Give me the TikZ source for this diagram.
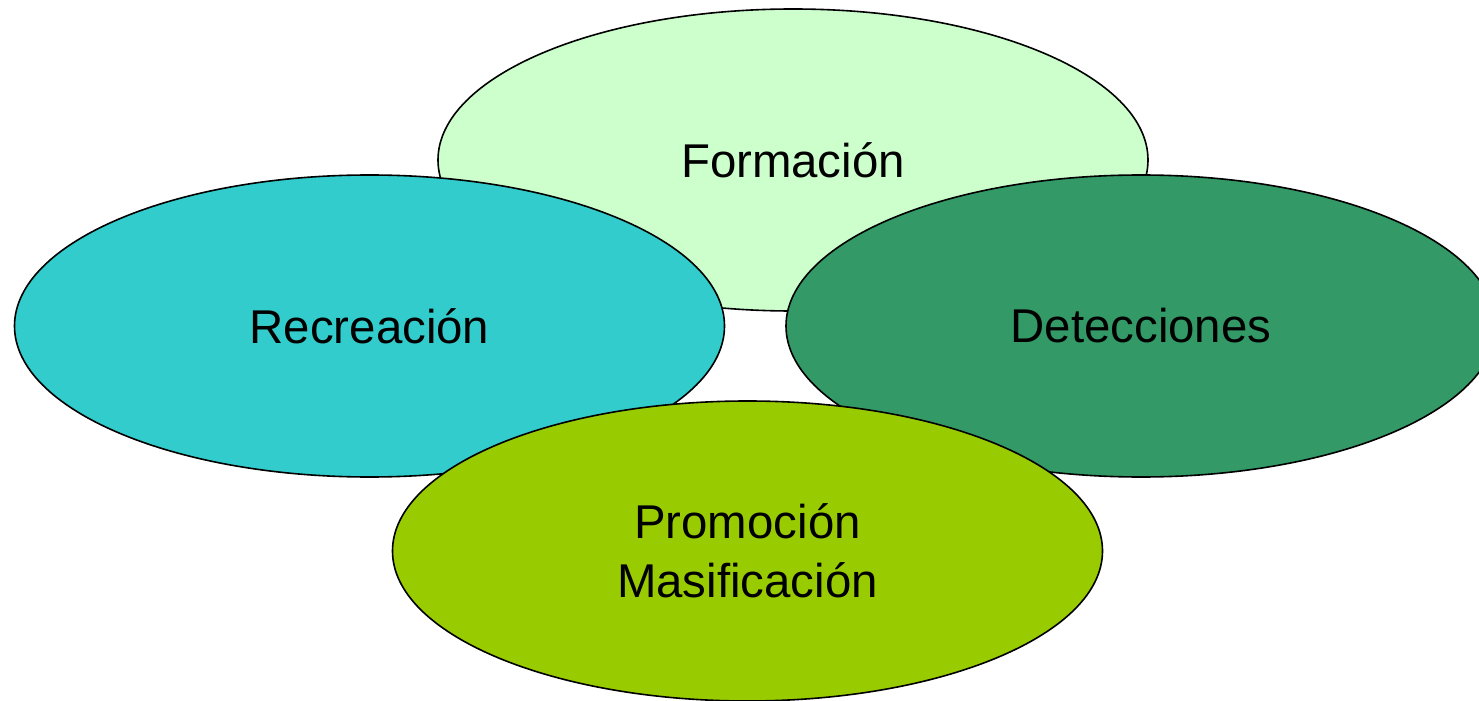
\documentclass[tikz,border=0pt]{standalone}
\usepackage{fontspec}
\setmainfont{Liberation Sans}
\usepackage{tikz}
\usetikzlibrary{shapes.geometric}
\definecolor{vclaro}{HTML}{CCFFCC}
\definecolor{turquesa}{HTML}{33CCCC}
\definecolor{vmar}{HTML}{339966}
\definecolor{lima}{HTML}{99CC00}
\tikzset{area/.style={ellipse,draw=black,line width=0.8pt,inner sep=0pt,
  minimum width=355pt,minimum height=151pt,align=center,
  font=\fontsize{23.7}{29.5}\selectfont}}
\begin{document}
\begin{tikzpicture}[x=0.5pt,y=-0.5pt]
\useasboundingbox (0,0) rectangle (1479,701);
\clip (0,0) rectangle (1479,701);
\node [area,fill=vclaro] (form) at (793,160) {Formación};
\node [area,fill=turquesa] (recr) at (369.5,326) {Recreación};
\node [area,fill=vmar] (dete) at (1141,326) {Detecciones};
\node [area,fill=lima,minimum height=150pt] (prom) at (747.5,551) {Promoción\\Masificación};

\end{tikzpicture}
\end{document}
